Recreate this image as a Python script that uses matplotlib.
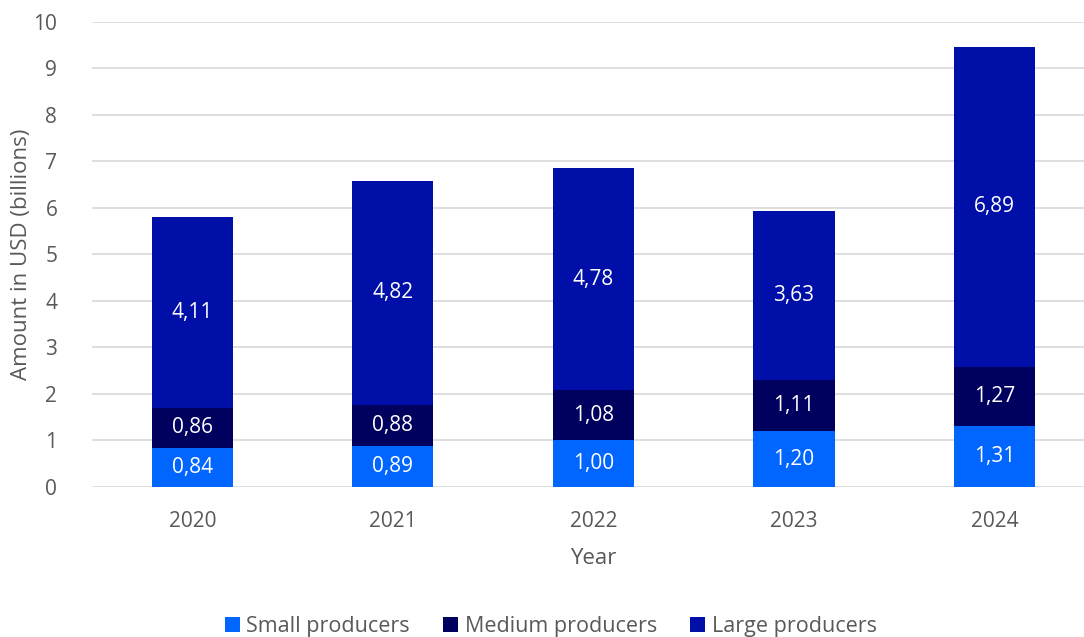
import matplotlib.pyplot as plt
import numpy as np

plt.rcParams['font.family'] = ['Open Sans', 'DejaVu Sans']

years = ['2020', '2021', '2022', '2023', '2024']
small = [0.84, 0.89, 1.00, 1.20, 1.31]
medium = [0.86, 0.88, 1.08, 1.11, 1.27]
large = [4.11, 4.82, 4.78, 3.63, 6.89]

colors = ['#0066ff', '#00005e', '#000fa8']
names = ['Small producers', 'Medium producers', 'Large producers']
text_grey = '#595959'

fig = plt.figure(figsize=(10.84, 6.37), dpi=100)
ax = fig.add_axes([0.0849, 0.2355, 0.925, 0.73])

x = np.arange(len(years))
bottom = np.zeros(len(years))
for vals, c, n in zip([small, medium, large], colors, names):
    vals = np.array(vals)
    ax.bar(x, vals, 0.405, bottom=bottom, color=c, label=n, zorder=3)
    for xi, b, v in zip(x, bottom, vals):
        ax.text(xi, b + v / 2, f'{v:.2f}'.replace('.', ','), ha='center', va='center',
                color='white', fontsize=15, zorder=4)
    bottom += vals

ax.set_xlim(-0.5, 4.5)
ax.set_ylim(0, 10)
ax.set_yticks(range(0, 11))
ax.set_xticks(x)
ax.set_xticklabels(years)
ax.grid(axis='y', color='#d9d9d9', linewidth=1.2, zorder=0)
for s in ax.spines.values():
    s.set_visible(False)
ax.tick_params(length=0, labelsize=15, colors=text_grey)
ax.tick_params(axis='x', pad=17)
ax.tick_params(axis='y', pad=25)
ax.set_xlabel('Year', fontsize=16, color=text_grey, labelpad=12)

# y label placed by hand so it stays inside the figure
fig.text(22 / 1084, 0.601, 'Amount in USD (billions)', rotation=90, ha='center', va='center',
         fontsize=16, color=text_grey)

fig.legend(loc='lower center', bbox_to_anchor=(0.508, -0.03), ncol=3, frameon=False,
           fontsize=15.5, labelcolor=text_grey, handlelength=0.7, handleheight=0.7,
           handletextpad=0.3, columnspacing=1.55)

fig.savefig('out.png', dpi=100)
